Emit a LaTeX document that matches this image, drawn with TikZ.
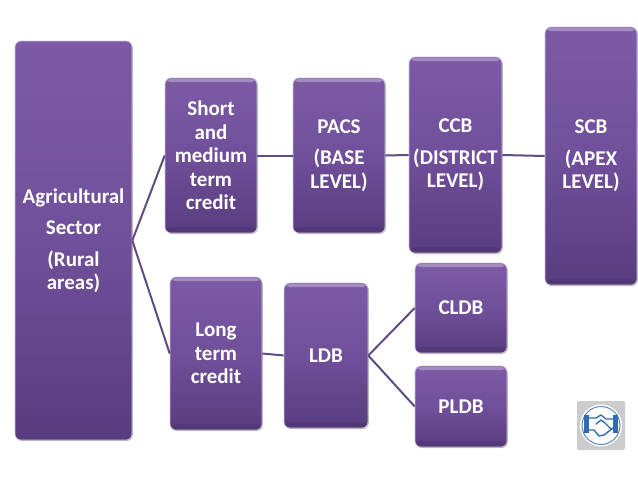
\documentclass[tikz,border=0pt]{standalone}
\usepackage{fontspec}
\setmainfont{Carlito}
\usetikzlibrary{shadows}
\definecolor{boxtop}{HTML}{7D5AA6}
\definecolor{boxmid}{HTML}{70509A}
\definecolor{boxbot}{HTML}{593C80}
\definecolor{linkc}{HTML}{5F4C80}
\definecolor{ringb}{HTML}{2F6DB0}
\tikzset{
  bx/.style={rounded corners=6pt,top color=boxtop,bottom color=boxbot,middle color=boxmid,
    draw=boxbot!30!white,line width=0.6pt,text=white,align=center,inner sep=0pt,
    font=\fontsize{21}{23.5}\selectfont\bfseries,
    drop shadow={shadow xshift=0.8pt,shadow yshift=-1pt,opacity=0.25,fill=black}},
  gloss/.style={path picture={
    \fill[white,opacity=0.3] ([yshift=-1pt]path picture bounding box.north west) rectangle ([yshift=-4pt]path picture bounding box.north east);
    \fill[black,opacity=0.08] ([yshift=6pt]path picture bounding box.south west) rectangle (path picture bounding box.south east);
  }},
  link/.style={draw=linkc,line width=2pt},
}
\newcommand{\boxnode}[7][gloss]{% style, name, x1, y1, x2, y2, text
  \node[bx,#1,minimum width=#5pt-#3pt,minimum height=#6pt-#4pt] (#2) at ({(#3+#5)/2},{(#4+#6)/2}) {#7};
}
\begin{document}
\begin{tikzpicture}[x=1pt,y=-1pt]
\useasboundingbox (0,0) rectangle (638,479);
\fill[white] (0,0) rectangle (638,479);
\boxnode[]{agri}{15}{41}{132}{440}{Agricultural\\[8pt]Sector\\[8pt](Rural\\areas)}
\boxnode{short}{165}{78}{257}{233}{Short\\and\\medium\\term\\credit}
\boxnode{pacs}{293}{78}{385}{233}{PACS\\[8pt](BASE\\LEVEL)}
\boxnode{ccb}{409}{57}{502}{253}{CCB\\[8pt](DISTRICT\\LEVEL)}
\boxnode{scb}{545}{27}{637}{285}{SCB\\[8pt](APEX\\LEVEL)}
\boxnode{long}{170}{277}{262}{430}{Long\\term\\credit}
\boxnode{ldb}{284}{283}{368}{428}{LDB}
\boxnode{cldb}{415}{263}{507}{353}{CLDB}
\boxnode{pldb}{415}{366}{507}{447}{PLDB}
\draw[link] (agri.east) -- (short.west);
\draw[link] (agri.east) -- (long.west);
\draw[link] (short.east) -- (pacs.west);
\draw[link] (pacs.east) -- (ccb.west);
\draw[link] (ccb.east) -- (scb.west);
\draw[link] (long.east) -- (ldb.west);
\draw[link] (ldb.east) -- (cldb.west);
\draw[link] (ldb.east) -- (pldb.west);
% logo
\fill[gray!40,rounded corners=2pt] (577,401) rectangle (625,450);
\fill[white] (601,425.5) circle (21);
\draw[ringb!80!white,line width=1pt] (601,425.5) circle (19);
\fill[ringb] (584,415) rectangle (589,433);
\fill[ringb] (613,415) rectangle (618,433);
\draw[ringb,line width=1.4pt,line join=round,line cap=round]
  (589,418) -- (596,418) -- (601,415) -- (606,419) -- (613,419)
  (589,430) -- (594,430) -- (599,436) -- (604,435) -- (613,428)
  (596,424) -- (601,420) -- (605,423) -- (611,429);
\end{tikzpicture}
\end{document}
